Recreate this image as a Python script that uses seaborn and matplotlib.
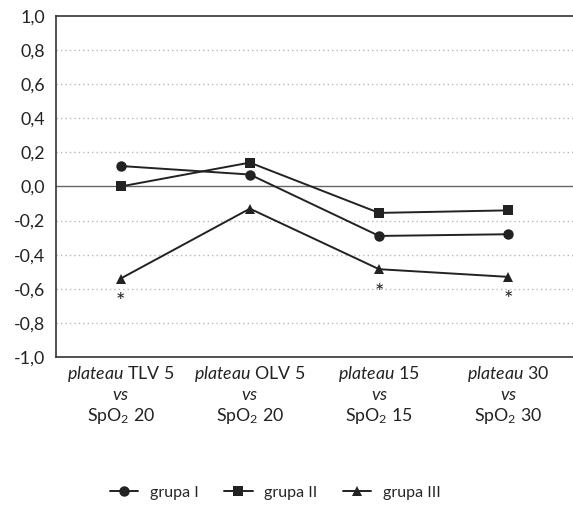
import seaborn as sns
import matplotlib.pyplot as plt
import numpy as np
import pandas as pd
from matplotlib.lines import Line2D

categories = [
    "$\\mathit{plateau}$ TLV 5\n$\\mathit{vs}$\nSpO$_2$ 20",
    "$\\mathit{plateau}$ OLV 5\n$\\mathit{vs}$\nSpO$_2$ 20",
    "$\\mathit{plateau}$ 15\n$\\mathit{vs}$\nSpO$_2$ 15",
    "$\\mathit{plateau}$ 30\n$\\mathit{vs}$\nSpO$_2$ 30",
]
groups = ["grupa I", "grupa II", "grupa III"]
grupa_1 = [0.12, 0.07, -0.29, -0.28]
grupa_2 = [0.0, 0.14, -0.155, -0.14]
grupa_3 = [-0.54, -0.13, -0.485, -0.53]
significant = [0, 2, 3]  # asterisks under grupa III
y_ticks = [-1.0, -0.8, -0.6, -0.4, -0.2, 0.0, 0.2, 0.4, 0.6, 0.8, 1.0]

sns.set_theme(style='white')
plt.rcParams['font.family'] = ['Lato', 'DejaVu Sans']
plt.rcParams['mathtext.fontset'] = 'custom'
plt.rcParams['mathtext.rm'] = 'Lato'
plt.rcParams['mathtext.it'] = 'Lato:italic'

rows = []
for g, vals in zip(groups, [grupa_1, grupa_2, grupa_3]):
    for i, v in enumerate(vals):
        rows.append({'pos': i, 'val': v, 'grupa': g})
df = pd.DataFrame(rows)

fig = plt.figure(figsize=(5.73, 5.13), dpi=100)
ax = fig.add_axes([0.0977, 0.304, 0.9023, 0.665])

ink = '#222222'
markers = ['o', 's', '^']
sns.lineplot(data=df, x='pos', y='val', hue='grupa', style='grupa',
             markers=markers, dashes=False, palette=[ink] * 3,
             markersize=7.5, markeredgewidth=0, linewidth=1.4, ax=ax,
             legend=False, zorder=3)

for i in significant:
    ax.annotate('*', (i, grupa_3[i]), xytext=(0, -17), textcoords='offset points',
                ha='center', va='center', fontsize=16, color=ink)

# grid
for t in y_ticks[1:-1]:
    if t == 0:
        ax.axhline(0, color='#666666', lw=1.0, zorder=1)
    else:
        ax.axhline(t, color='#b8b8b8', lw=1.0, ls=(0, (1, 2.2)), zorder=1)

ax.set_ylim(-1.0, 1.0)
ax.set_xlim(-0.5, 3.417)
ax.set_yticks(y_ticks)
ax.set_yticklabels([f"{t:.1f}".replace('.', ',') for t in y_ticks])
ax.set_xticks([-0.5, 0.5, 1.5, 2.5, 3.5])
ax.set_xticklabels([])
ax.set_xticks([0, 1, 2, 3], minor=True)
ax.set_xticklabels(categories, minor=True, fontsize=12.8, linespacing=1.22, color=ink)
ax.tick_params(axis='x', which='minor', length=0, pad=5)
ax.tick_params(axis='x', which='major', length=6, width=1.2, color='#444444', direction='out')
ax.tick_params(axis='y', length=5, width=1.2, color='#444444', direction='out',
               labelsize=12.8, labelcolor=ink, pad=3)
ax.set_xlabel('')
ax.set_ylabel('')
for s in ['left', 'bottom', 'top']:
    ax.spines[s].set_color('#333333')
    ax.spines[s].set_linewidth(1.2)
ax.spines['right'].set_visible(False)

handles = [Line2D([], [], color=ink, marker=m, markersize=7.5, lw=1.4, markeredgewidth=0)
           for m in markers]
fig.legend(handles, groups, loc='center', bbox_to_anchor=(0.48, 0.04), ncol=3,
           frameon=False, fontsize=11.5, handlelength=1.8, columnspacing=1.6,
           handletextpad=0.7)

fig.savefig('out.png', dpi=100)
